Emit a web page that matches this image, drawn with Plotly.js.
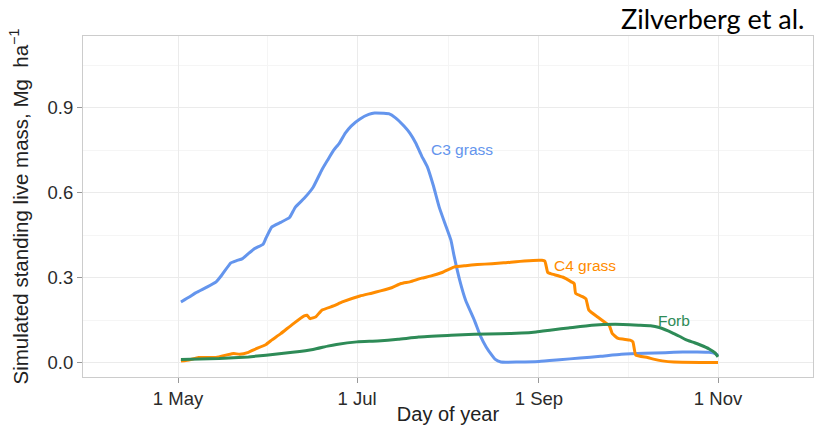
<!DOCTYPE html>
<html>
<head>
<meta charset="utf-8">
<script src="https://cdn.plot.ly/plotly-3.0.1.min.js"></script>
<style>html,body{margin:0;padding:0;background:#fff;}#chart{width:816px;height:425px;}</style>
</head>
<body>
<div id="chart"></div>
<script>
// Day of year (non-leap year): 1 May = 121, 1 Jul = 182, 1 Sep = 244, 1 Nov = 305
var tickDays = [121, 182, 244, 305];
var tickLabels = ["1 May", "1 Jul", "1 Sep", "1 Nov"];
var minorDays = [151.5, 213, 274.5];
var yTickVals = [0, 0.3, 0.6, 0.9];
var yTickLabels = ["0.0", "0.3", "0.6", "0.9"];
var yMinorVals = [0.15, 0.45, 0.75, 1.05];

var c3Day = [122, 125, 127, 131, 134, 136, 139, 141, 143, 147, 150, 151, 153, 156, 159, 161, 164, 167, 170, 172, 174, 176, 178, 180, 183, 186, 188, 191, 193, 195, 198, 200, 202, 204, 206, 208, 210, 212, 214, 215, 217, 219, 222, 224, 226, 228, 229, 231, 237, 244, 251, 258, 265, 272, 280, 287, 293, 298, 302, 304, 305];
var c3Val = [0.214, 0.232, 0.246, 0.267, 0.285, 0.310, 0.352, 0.360, 0.367, 0.402, 0.418, 0.440, 0.479, 0.495, 0.512, 0.549, 0.580, 0.618, 0.680, 0.715, 0.749, 0.775, 0.810, 0.835, 0.860, 0.876, 0.881, 0.880, 0.878, 0.865, 0.835, 0.810, 0.775, 0.730, 0.690, 0.625, 0.549, 0.490, 0.432, 0.380, 0.290, 0.220, 0.149, 0.095, 0.055, 0.025, 0.012, 0.002, 0.002, 0.004, 0.010, 0.016, 0.022, 0.029, 0.033, 0.035, 0.037, 0.037, 0.036, 0.032, 0.025];

var c4Day = [122, 125, 128, 134, 138, 140, 142, 145, 147, 151, 153, 156, 160, 164, 165, 166, 168, 170, 174, 177, 183, 187, 190, 194, 197, 200, 204, 207, 211, 215, 219, 223, 228, 232, 239, 245, 246, 247, 248, 252, 253, 255, 256, 256.5, 259, 260, 261, 264, 267, 268, 269, 271, 275, 276, 277, 281, 283, 286, 290, 305];
var c4Val = [0.005, 0.010, 0.018, 0.018, 0.028, 0.032, 0.029, 0.036, 0.046, 0.064, 0.080, 0.102, 0.135, 0.165, 0.167, 0.155, 0.162, 0.185, 0.200, 0.214, 0.235, 0.245, 0.253, 0.265, 0.279, 0.285, 0.298, 0.305, 0.318, 0.337, 0.342, 0.346, 0.349, 0.352, 0.359, 0.361, 0.358, 0.318, 0.314, 0.302, 0.297, 0.285, 0.279, 0.244, 0.232, 0.225, 0.185, 0.161, 0.138, 0.130, 0.102, 0.085, 0.079, 0.073, 0.026, 0.018, 0.012, 0.006, 0.002, 0.000];

var forbDay = [122, 135, 145, 151, 160, 167, 172, 175, 182, 189, 196, 203, 214, 222, 231, 238, 243, 249, 254, 262, 270, 278, 282, 285, 288, 290, 292, 294, 297, 299, 302, 304, 305];
var forbVal = [0.011, 0.014, 0.020, 0.026, 0.036, 0.046, 0.058, 0.064, 0.073, 0.076, 0.082, 0.090, 0.096, 0.100, 0.102, 0.104, 0.108, 0.116, 0.122, 0.132, 0.135, 0.132, 0.130, 0.124, 0.112, 0.102, 0.092, 0.081, 0.070, 0.062, 0.048, 0.034, 0.020];

var seriesNames = ["C3 grass", "C4 grass", "Forb"];
var seriesColors = ["#6495ED", "#FF8C00", "#2E8B57"];
var labelDay = [206.6, 248.6, 284.0];
var labelVal = [0.752, 0.343, 0.149];

var days = [c3Day, c4Day, forbDay];
var vals = [c3Val, c4Val, forbVal];

var traces = seriesNames.map(function (n, i) {
  return {
    x: days[i], y: vals[i], name: n, type: "scatter", mode: "lines",
    line: {color: seriesColors[i], width: 3, shape: "spline", smoothing: 0.4},
    hoverinfo: "skip"
  };
});

var baseFont = "Arial, 'Liberation Sans', Helvetica, sans-serif";

var annotations = seriesNames.map(function (n, i) {
  return {
    x: labelDay[i], y: labelVal[i], xref: "x", yref: "y", text: n,
    showarrow: false, xanchor: "left", yanchor: "middle",
    font: {family: baseFont, size: 15.5, color: seriesColors[i]}
  };
});
annotations.push({
  x: 0.990, y: 1.05, xref: "paper", yref: "paper", text: "Zilverberg et al.",
  showarrow: false, xanchor: "right", yanchor: "middle",
  font: {family: "Lato, 'Open Sans', sans-serif", size: 27, color: "#000"}
});

var layout = {
  width: 816, height: 425,
  margin: {l: 83, r: 3, t: 36, b: 48},
  paper_bgcolor: "#fff", plot_bgcolor: "#fff",
  showlegend: false,
  font: {family: baseFont, color: "#222"},
  xaxis: {
    range: [88.63, 337.37], tickmode: "array", tickvals: tickDays, ticktext: tickLabels,
    ticks: "outside", ticklen: 5, tickcolor: "#999", tickwidth: 1,
    tickfont: {family: baseFont, size: 18.5, color: "#2b2b2b"},
    showgrid: true, gridcolor: "#ebebeb", gridwidth: 1,
    minor: {tickmode: "array", tickvals: minorDays, showgrid: true, gridcolor: "#f5f5f5", gridwidth: 1, ticklen: 0},
    zeroline: false, showline: true, linecolor: "#cccccc", linewidth: 1, mirror: true,
    title: {text: "Day of year", font: {family: baseFont, size: 20, color: "#222"}, standoff: 1}
  },
  yaxis: {
    range: [-0.051, 1.153], tickmode: "array", tickvals: yTickVals, ticktext: yTickLabels,
    ticks: "outside", ticklen: 5, tickcolor: "#999", tickwidth: 1,
    tickfont: {family: baseFont, size: 18.5, color: "#2b2b2b"},
    showgrid: true, gridcolor: "#ebebeb", gridwidth: 1,
    minor: {tickmode: "array", tickvals: yMinorVals, showgrid: true, gridcolor: "#f5f5f5", gridwidth: 1, ticklen: 0},
    zeroline: false, showline: true, linecolor: "#cccccc", linewidth: 1, mirror: true,
    title: {text: "Simulated standing live mass, Mg  ha<sup>\u22121</sup>", font: {family: baseFont, size: 20.5, color: "#222"}, standoff: 13}
  },
  annotations: annotations
};

Plotly.newPlot("chart", traces, layout, {staticPlot: true, displayModeBar: false});
</script>
</body>
</html>
